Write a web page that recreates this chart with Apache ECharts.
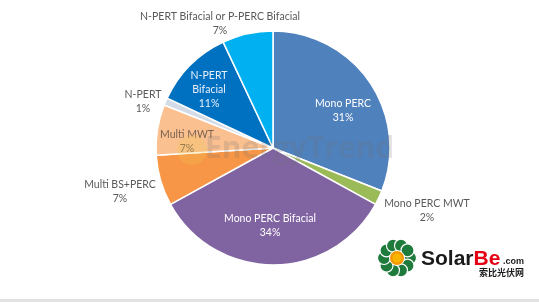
<!DOCTYPE html>
<html>
<head>
<meta charset="utf-8">
<script src="https://cdn.jsdelivr.net/npm/echarts@6/dist/echarts.min.js"></script>
<style>
html,body{margin:0;padding:0;background:#fff;}
#chart{width:539px;height:302px;}
</style>
</head>
<body>
<div id="chart"></div>
<script>
// ---- data ----
const categories = ['Mono PERC', 'Mono PERC MWT', 'Mono PERC Bifacial', 'Multi BS+PERC', 'Multi MWT', 'N-PERT', 'N-PERT Bifacial', 'N-PERT Bifacial or P-PERC Bifacial'];
const shares = [31, 2, 34, 7, 7, 1, 11, 7];
const labelNames = ['Mono PERC', 'Mono PERC MWT', 'Mono PERC Bifacial', 'Multi BS+PERC', 'Multi MWT', 'N-PERT', 'N-PERT\nBifacial', 'N-PERT Bifacial or P-PERC Bifacial'];

// ---- styles ----
const colors = ['#4f81bd', '#9bbb59', '#8064a2', '#f79646', '#fac090', '#d3dbe6', '#0070c0', '#00b0f0'];
const labelColors = ['#ffffff', '#595959', '#ffffff', '#595959', '#7a6450', '#595959', '#e8f0fa', '#595959'];
const labelPos = [[343,111],[427,211],[270,226],[120,192],[187,142],[143,102],[209,90],[220,24]];

const chart = echarts.init(document.getElementById('chart'), null, {renderer:'canvas'});

const petals = [];
for (let i = 0; i < 10; i++) {
  const a = i * Math.PI * 2 / 10;
  petals.push({type:'circle', shape:{cx:397 + Math.cos(a)*13, cy:258 + Math.sin(a)*13, r:6.5},
    style:{fill:'#1e7b3c', stroke:'#ffffff', lineWidth:1.2}});
}
petals.push({type:'circle', shape:{cx:397, cy:258, r:7.5}, style:{fill:'#f39800', stroke:'#fff', lineWidth:1}});
petals.push({type:'circle', shape:{cx:397, cy:258, r:4.5}, style:{fill:'#f7b500'}});

const option = {
  backgroundColor:'#ffffff',
  animation:false,
  series:[{
    type:'pie',
    center:[273,148],
    radius:[0,117],
    startAngle:90,
    clockwise:true,
    percentPrecision:0,
    itemStyle:{borderColor:'#ffffff', borderWidth:1.5},
    label:{
      show:true, position:'inside',
      fontFamily:'Lato', fontSize:10.5, lineHeight:14,
      formatter: p => labelNames[p.dataIndex] + '\n' + p.percent + '%'
    },
    labelLine:{show:false},
    labelLayout: p => ({x:labelPos[p.dataIndex][0], y:labelPos[p.dataIndex][1], align:'center', verticalAlign:'middle'}),
    emphasis:{disabled:true},
    data: categories.map((c,i)=>({name:c, value:shares[i], itemStyle:{color:colors[i]}, label:{color:labelColors[i]}}))
  }],
  graphic:[
    {type:'circle', z:100, shape:{cx:192, cy:150, r:15}, style:{fill:'rgba(240,200,80,0.25)'}},
    {type:'text', z:100, left:205, top:134, style:{text:'EnergyTrend', font:'bold 30px "Open Sans"', fill:'rgba(110,110,110,0.2)'}},
    {type:'group', z:100, children:petals},
    {type:'text', z:100, left:421, top:249, style:{text:'{a|Solar}{b|Be}', rich:{
      a:{font:'bold 21px "Liberation Sans"', fill:'#1a1a1a'},
      b:{font:'bold 21px "Liberation Sans"', fill:'#e60012'}}}},
    {type:'text', z:100, left:503, top:257, style:{text:'.com', font:'bold 9px "Liberation Sans"', fill:'#1a1a1a'}},
    {type:'text', z:100, left:479, top:268, style:{text:'索比光伏网', font:'bold 9px "Noto Sans CJK SC"', fill:'#1a1a1a'}},
    {type:'rect', z:100, shape:{x:0, y:299, width:539, height:3}, style:{fill:'#e2e2e2'}}
  ]
};
chart.setOption(option);
</script>
</body>
</html>
